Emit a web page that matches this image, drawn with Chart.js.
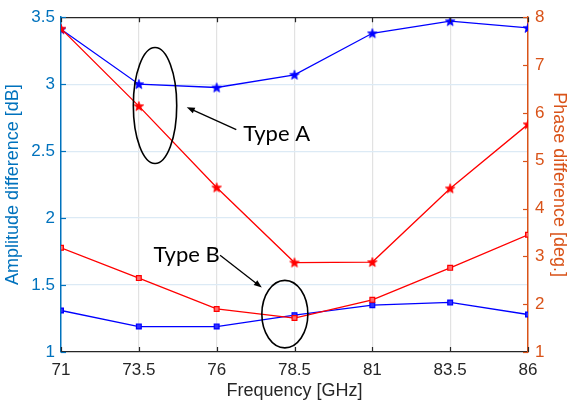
<!DOCTYPE html>
<html>
<head>
<meta charset="utf-8">
<script src="https://cdn.jsdelivr.net/npm/chart.js@4.4.1/dist/chart.umd.min.js"></script>
<style>
  html, body { margin: 0; padding: 0; background: #fff; }
  #wrap { width: 570px; height: 404px; }
</style>
</head>
<body>
<div id="wrap"><canvas id="chart" width="570" height="404"></canvas></div>
<script>
// data
const freq = [71, 73.5, 76, 78.5, 81, 83.5, 86];
const ampTypeA = [3.41, 3.0, 2.975, 3.07, 3.38, 3.47, 3.42];
const phaseTypeA = [7.76, 6.14, 4.44, 2.87, 2.88, 4.42, 5.76];
const ampTypeB = [1.31, 1.19, 1.19, 1.275, 1.35, 1.37, 1.28];
const phaseTypeB = [3.18, 2.545, 1.9, 1.71, 2.09, 2.76, 3.45];
const freqTicks = [71, 73.5, 76, 78.5, 81, 83.5, 86];
const ampTicks = [1, 1.5, 2, 2.5, 3, 3.5];
const phaseTicks = [1, 2, 3, 4, 5, 6, 7, 8];

const leftColor = "#0072BD";
const rightColor = "#D95319";
const textColor = "#262626";
const tickFont = { family: "'Liberation Sans', Arial, sans-serif", size: 17 };
const titleFont = { family: "'Liberation Sans', Arial, sans-serif", size: 18 };

// pentagram marker
function makeStar(color) {
  const c = document.createElement("canvas");
  c.width = 12; c.height = 12;
  const g = c.getContext("2d");
  g.beginPath();
  for (let i = 0; i < 10; i++) {
    const r = i % 2 === 0 ? 5 : 2.1;
    const a = -Math.PI / 2 + i * Math.PI / 5;
    const px = 6 + r * Math.cos(a), py = 6.4 + r * Math.sin(a);
    if (i === 0) g.moveTo(px, py); else g.lineTo(px, py);
  }
  g.closePath();
  g.fillStyle = color;
  g.fill();
  g.strokeStyle = color;
  g.lineWidth = 0.8;
  g.stroke();
  return c;
}

function pts(ys) { return freq.map((f, i) => ({ x: f, y: ys[i] })); }

// annotations, in data units (x: GHz, y: dB)
const notes = {
  ellipseA: { x: 74.02, y: 2.841, rx: 0.697, ry: 0.433 },
  ellipseB: { x: 78.19, y: 1.283, rx: 0.739, ry: 0.252 },
  arrowA: { x1: 76.63, y1: 2.660, x2: 75.04, y2: 2.828 },
  arrowB: { x1: 76.11, y1: 1.722, x2: 77.45, y2: 1.481 },
  textA: { x: 76.85, y: 2.572, text: "Type A" },
  textB: { x: 73.97, y: 1.672, text: "Type B" }
};

const extras = {
  id: "extras",
  afterDatasetsDraw(chart) {
    const ctx = chart.ctx;
    const a = chart.chartArea;
    const xs = chart.scales.x, yl = chart.scales.yL, yr = chart.scales.yR;
    ctx.save();
    // top box line
    ctx.strokeStyle = textColor;
    ctx.lineWidth = 1.2;
    ctx.beginPath();
    ctx.moveTo(a.left, a.top + 0.5);
    ctx.lineTo(a.right, a.top + 0.5);
    ctx.stroke();
    // inner ticks
    const tl = 5;
    freqTicks.forEach(v => {
      const px = Math.round(xs.getPixelForValue(v)) + 0.5;
      ctx.beginPath();
      ctx.moveTo(px, a.bottom); ctx.lineTo(px, a.bottom - tl);
      ctx.moveTo(px, a.top); ctx.lineTo(px, a.top + tl);
      ctx.stroke();
    });
    ctx.strokeStyle = leftColor;
    ampTicks.forEach(v => {
      const py = Math.round(yl.getPixelForValue(v)) + 0.5;
      ctx.beginPath(); ctx.moveTo(a.left, py); ctx.lineTo(a.left + tl, py); ctx.stroke();
    });
    ctx.strokeStyle = rightColor;
    phaseTicks.forEach(v => {
      const py = Math.round(yr.getPixelForValue(v)) + 0.5;
      ctx.beginPath(); ctx.moveTo(a.right, py); ctx.lineTo(a.right - tl, py); ctx.stroke();
    });

    // ellipses
    ctx.strokeStyle = "#000";
    ctx.lineWidth = 1.6;
    [notes.ellipseA, notes.ellipseB].forEach(e => {
      const cx = xs.getPixelForValue(e.x), cy = yl.getPixelForValue(e.y);
      const rx = xs.getPixelForValue(e.x + e.rx) - cx;
      const ry = cy - yl.getPixelForValue(e.y + e.ry);
      ctx.beginPath();
      ctx.ellipse(cx, cy, rx, ry, 0, 0, Math.PI * 2);
      ctx.stroke();
    });
    // arrows
    [notes.arrowA, notes.arrowB].forEach(r => {
      const x1 = xs.getPixelForValue(r.x1), y1 = yl.getPixelForValue(r.y1);
      const x2 = xs.getPixelForValue(r.x2), y2 = yl.getPixelForValue(r.y2);
      const ang = Math.atan2(y2 - y1, x2 - x1);
      const hl = 8, hw = 3;
      ctx.lineWidth = 1.3;
      ctx.beginPath();
      ctx.moveTo(x1, y1);
      ctx.lineTo(x2 - hl * 0.8 * Math.cos(ang), y2 - hl * 0.8 * Math.sin(ang));
      ctx.stroke();
      ctx.fillStyle = "#000";
      ctx.beginPath();
      ctx.moveTo(x2, y2);
      ctx.lineTo(x2 - hl * Math.cos(ang) + hw * Math.sin(ang), y2 - hl * Math.sin(ang) - hw * Math.cos(ang));
      ctx.lineTo(x2 - hl * Math.cos(ang) - hw * Math.sin(ang), y2 - hl * Math.sin(ang) + hw * Math.cos(ang));
      ctx.closePath();
      ctx.fill();
    });
    // labels
    ctx.fillStyle = "#000";
    ctx.font = "22px Lato, 'Open Sans', sans-serif";
    ctx.textAlign = "left";
    ctx.textBaseline = "alphabetic";
    [notes.textA, notes.textB].forEach(t => {
      ctx.fillText(t.text, xs.getPixelForValue(t.x), yl.getPixelForValue(t.y));
    });
    ctx.restore();
  }
};

new Chart(document.getElementById("chart"), {
  type: "line",
  data: {
    datasets: [
      {
        label: "Type A phase", data: pts(phaseTypeA), yAxisID: "yR",
        borderColor: "#FF0000", borderWidth: 1.3, pointStyle: makeStar("#FF0000"),
        order: 1
      },
      {
        label: "Type B phase", data: pts(phaseTypeB), yAxisID: "yR",
        borderColor: "#FF0000", borderWidth: 1.3, pointStyle: "rect", pointRadius: 3.4,
        pointBorderColor: "#FF0000", pointBackgroundColor: "#FF6a6a", pointBorderWidth: 1.2,
        order: 2
      },
      {
        label: "Type A amplitude", data: pts(ampTypeA), yAxisID: "yL",
        borderColor: "#0000FF", borderWidth: 1.3, pointStyle: makeStar("#0000FF"),
        order: 3
      },
      {
        label: "Type B amplitude", data: pts(ampTypeB), yAxisID: "yL",
        borderColor: "#0000FF", borderWidth: 1.3, pointStyle: "rect", pointRadius: 3.4,
        pointBorderColor: "#0000FF", pointBackgroundColor: "#3030FF", pointBorderWidth: 1.2,
        order: 4
      }
    ]
  },
  options: {
    responsive: false,
    animation: false,
    layout: { padding: { top: 17, left: 0, right: 0, bottom: 0 } },
    plugins: { legend: { display: false }, tooltip: { enabled: false } },
    scales: {
      x: {
        type: "linear", min: 71, max: 86,
        afterBuildTicks: s => { s.ticks = freqTicks.map(v => ({ value: v })); },
        afterFit: s => { s.height = 52; },
        grid: {
          color: ctx => (ctx.tick && (ctx.tick.value === 71 || ctx.tick.value === 86)) ? "rgba(0,0,0,0)" : "#e2e2e2",
          lineWidth: 1.2, drawTicks: false
        },
        border: { color: textColor, width: 1.2 },
        ticks: { color: textColor, font: tickFont, padding: 8, maxRotation: 0, autoSkip: false, callback: v => String(v) },
        title: { display: true, text: "Frequency [GHz]", color: textColor, font: titleFont, padding: { top: 0, bottom: 2.5 } }
      },
      yL: {
        type: "linear", position: "left", min: 1, max: 3.5,
        afterBuildTicks: s => { s.ticks = ampTicks.map(v => ({ value: v })); },
        afterFit: s => { s.width = 61; },
        grid: {
          color: ctx => (ctx.tick && (ctx.tick.value === 1 || ctx.tick.value === 3.5)) ? "rgba(0,0,0,0)" : "#dceaf5",
          lineWidth: 1.2, drawTicks: false
        },
        border: { color: leftColor, width: 1.5 },
        ticks: { color: leftColor, font: tickFont, padding: 6, autoSkip: false, callback: v => String(v) },
        title: { display: true, text: "Amplitude difference [dB]", color: leftColor, font: titleFont, padding: { top: 2.2, bottom: 0 } }
      },
      yR: {
        type: "linear", position: "right", min: 1, max: 8,
        afterBuildTicks: s => { s.ticks = phaseTicks.map(v => ({ value: v })); },
        afterFit: s => { s.width = 42; },
        grid: { drawOnChartArea: false, drawTicks: false },
        border: { color: rightColor, width: 1.5 },
        ticks: { color: rightColor, font: tickFont, padding: 7, autoSkip: false, callback: v => String(v) },
        title: { display: true, text: "Phase difference [deg.]", color: rightColor, font: titleFont, padding: { top: 0, bottom: 0 } }
      }
    }
  },
  plugins: [extras]
});
</script>
</body>
</html>
